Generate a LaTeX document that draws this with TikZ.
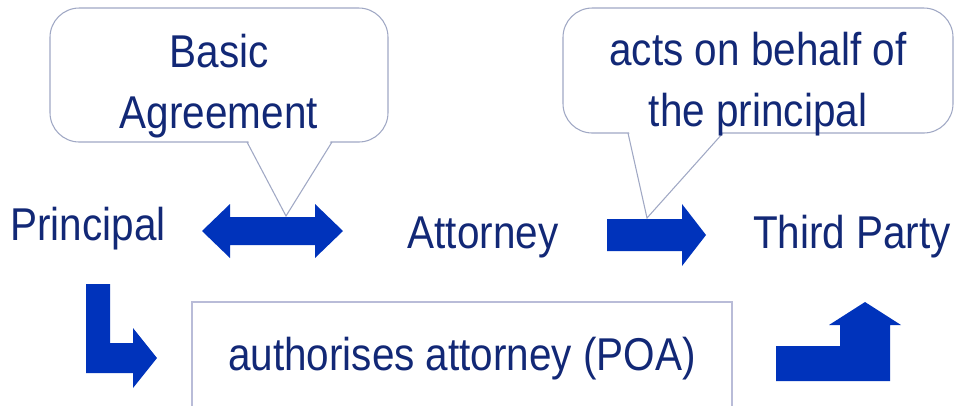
\documentclass[tikz,border=0pt]{standalone}
\usepackage{fontspec}
\setmainfont{Liberation Sans}[FakeStretch=0.88]
\definecolor{arrowblue}{RGB}{0,51,187}
\definecolor{textnavy}{RGB}{18,40,118}
\definecolor{calloutgrey}{RGB}{160,168,196}
\definecolor{boxgrey}{RGB}{185,188,216}
\tikzset{
	lbl/.style={text=textnavy, font=\fontsize{34.5pt}{45.75pt}\selectfont, inner sep=0pt, anchor=base},
	blockarrow/.style={fill=arrowblue, draw=none},
	calloutline/.style={draw=calloutgrey, line width=0.8pt},
	boxline/.style={draw=boxgrey, line width=1.2pt}}
\tikzset{every picture/.style={line width=0.75pt}}

\begin{document}
\begin{tikzpicture}[x=0.75pt,y=0.75pt,yscale=-1,xscale=1]
	\useasboundingbox (0,0) rectangle (955,405);
	\clip (0,0) rectangle (955,405);

	%Shape: Callout [id:agreecallout]
	\draw [calloutline, rounded corners=22pt] (50,8) rectangle (388,142) ;
	\fill [white] (248,140.5) -- (331,140.5) -- (286,214) -- cycle ;
	%Shape: Callout [id:behalfcallout]
	\draw [calloutline, rounded corners=22pt] (563,8) rectangle (953,133) ;
	\fill [white] (629,131.5) -- (722,131.5) -- (647,216) -- cycle ;

	%Shape: Double Arrow [id:agreearrow]
	\fill [blockarrow] (202,231) -- (230,204) -- (230,217) -- (315,217) -- (315,204) -- (343,231) -- (315,258) -- (315,245) -- (230,245) -- (230,258) -- cycle ;
	\coordinate (agreetip) at (286,216) ;
	%Shape: Right Arrow [id:behalfarrow]
	\fill [blockarrow] (607,219) -- (682,219) -- (682,204) -- (706,235) -- (682,266) -- (682,251) -- (607,251) -- cycle ;
	\coordinate (behalftip) at (647,218) ;
	%Shape: Bent Arrow [id:downarrow]
	\fill [blockarrow] (86,284) -- (110,284) -- (110,343) -- (133,343) -- (133,328) -- (157,358) -- (133,388) -- (133,373) -- (86,373) -- cycle ;
	%Shape: Bent Up Arrow [id:uparrow]
	\fill [blockarrow] (776,381) -- (890,381) -- (890,325) -- (901,325) -- (865,302) -- (829,325) -- (840,325) -- (840,346) -- (776,346) -- cycle ;

	%Callout tails
	\coordinate (agreeL) at (247,142) ;
	\coordinate (agreeR) at (332,142) ;
	\draw [calloutline] (agreeL) -- (agreetip) -- (agreeR) ;
	\coordinate (behalfL) at (628,133) ;
	\coordinate (behalfR) at (723,133) ;
	\draw [calloutline] (behalfL) -- (behalftip) -- (behalfR) ;

	%Shape: Rectangle [id:poabox]
	\draw [boxline] (192,302) rectangle (732,440) ;

	% Text Node
	\node [lbl, align=center] (agree) at (219,128) {Basic\\Agreement};
	% Text Node
	\node [lbl, align=center] (behalf) at (758,126) {acts on behalf of\\the principal};
	% Text Node
	\node [lbl] (principal) at (88,240) {Principal};
	% Text Node
	\node [lbl] (attorney) at (483,248) {Attorney};
	% Text Node
	\node [lbl] (third) at (852,248) {Third Party};
	% Text Node
	\node [lbl] (poa) at (462,370) {authorises attorney (POA)};

\end{tikzpicture}
\end{document}
